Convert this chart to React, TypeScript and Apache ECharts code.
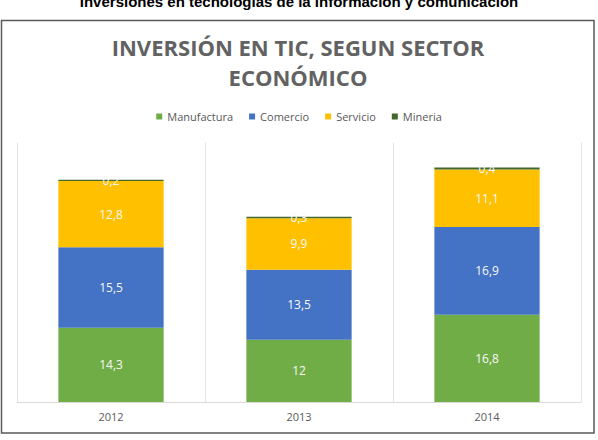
import React, { useEffect, useRef } from "react";
import * as echarts from "echarts";

const categories = ["2012", "2013", "2014"];
const manufactura = [14.3, 12, 16.8];
const comercio = [15.5, 13.5, 16.9];
const servicio = [12.8, 9.9, 11.1];
const mineria = [0.2, 0.3, 0.4];

const seriesNames = ["Manufactura", "Comercio", "Servicio", "Mineria"];
const seriesColors = ["#70AD47", "#4472C4", "#FFC000", "#43682B"];
const seriesData = [manufactura, comercio, servicio, mineria];

const outerTitle = "Inversiones en tecnologías de la información y comunicación";
const chartTitle = "INVERSIÓN EN TIC, SEGUN SECTOR\nECONÓMICO";

export default function App() {
  const ref = useRef<HTMLDivElement>(null);
  useEffect(() => {
    if (!ref.current) return;
    const chart = echarts.init(ref.current, null, { renderer: "svg" });
    const font = "'Open Sans', sans-serif";
    chart.setOption({
      animation: false,
      backgroundColor: "#ffffff",
      textStyle: { fontFamily: font },
      graphic: [
        {
          type: "rect",
          z: -10,
          silent: true,
          shape: { x: 1.5, y: 20.5, width: 592.5, height: 412.5 },
          style: { fill: "#ffffff", stroke: "#5a5a5a", lineWidth: 1.5 },
        },
        {
          type: "text",
          x: 299,
          y: 1,
          style: {
            text: outerTitle,
            fontFamily: "'Liberation Sans', Arial, sans-serif",
            fontWeight: "bold",
            fontSize: 15,
            fill: "#000000",
            align: "center",
            verticalAlign: "middle",
          },
        },
      ],
      title: {
        text: chartTitle,
        left: 298,
        top: 32,
        padding: 0,
        textAlign: "center",
        textStyle: {
          fontFamily: font,
          fontSize: 22,
          fontWeight: "bold",
          color: "#626262",
          lineHeight: 30,
        },
      },
      legend: {
        top: 106,
        left: "center",
        icon: "rect",
        itemWidth: 6,
        itemHeight: 6,
        itemGap: 16,
        textStyle: { fontFamily: font, fontSize: 11, color: "#595959" },
        data: seriesNames,
      },
      grid: { left: 17, right: 17, top: 142.5, bottom: 38 },
      xAxis: {
        type: "category",
        data: categories,
        axisLine: { lineStyle: { color: "#d9d9d9" } },
        axisTick: { show: false },
        splitLine: { show: true, lineStyle: { color: "#e4e4e4" } },
        axisLabel: {
          color: "#595959",
          fontSize: 11,
          margin: 9,
          fontFamily: font,
        },
      },
      yAxis: {
        type: "value",
        min: 0,
        max: 50,
        show: false,
        splitLine: { show: false },
      },
      series: seriesNames.map((name, i) => ({
        name,
        type: "bar",
        stack: "total",
        barWidth: "56%",
        data: seriesData[i],
        itemStyle: { color: seriesColors[i] },
        label: {
          show: true,
          position: "inside",
          color: "#f8f8f8",
          fontSize: 12,
          fontFamily: font,
          formatter: (p: any) => String(p.value).replace(".", ","),
        },
      })),
    });
    return () => chart.dispose();
  }, []);
  return (
    <div
      ref={ref}
      style={{ position: "fixed", left: 0, top: 0, width: 598, height: 440 }}
    />
  );
}
